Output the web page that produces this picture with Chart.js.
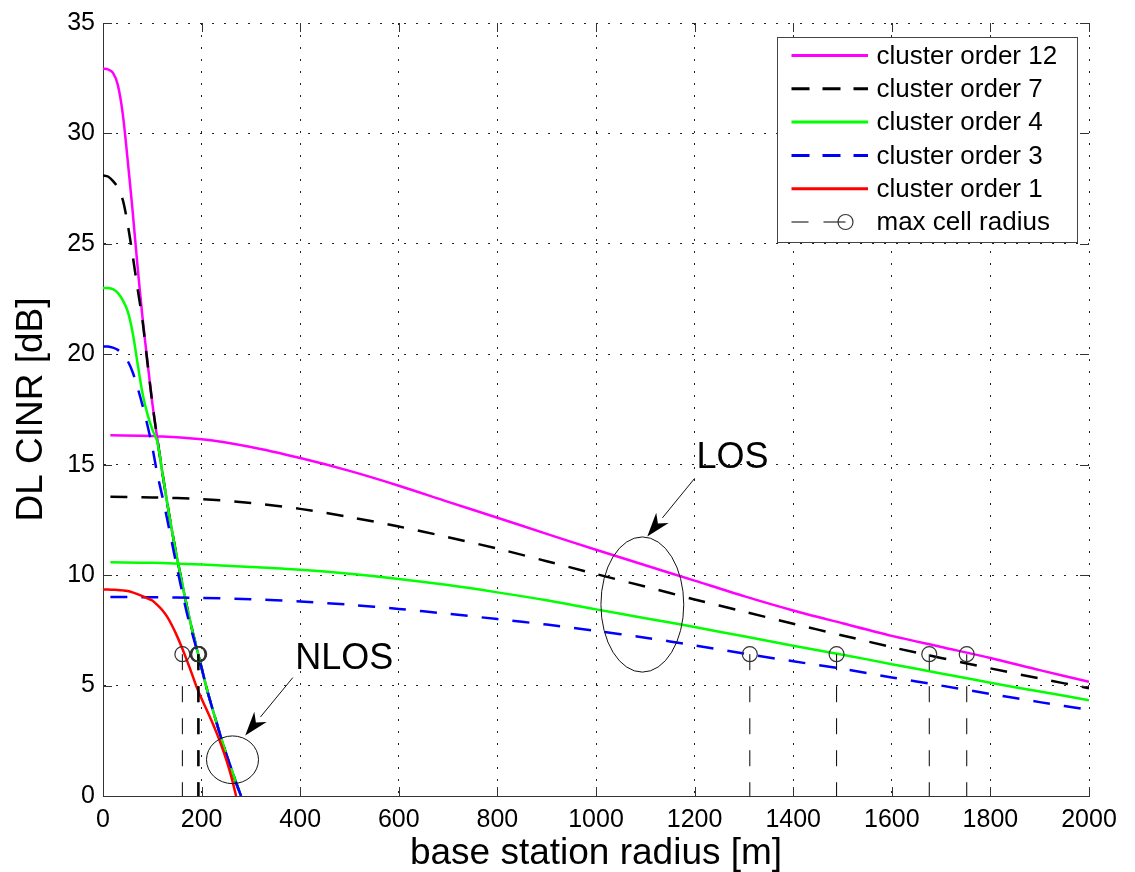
<!DOCTYPE html>
<html>
<head>
<meta charset="utf-8">
<title>DL CINR vs base station radius</title>
<script src="https://cdn.jsdelivr.net/npm/chart.js@4.4.1/dist/chart.umd.min.js"></script>
<style>
  html, body { margin: 0; padding: 0; background: #fff; }
  #wrap { width: 1135px; height: 872px; }
</style>
</head>
<body>
<div id="wrap"><canvas id="myChart" width="1135" height="872"></canvas></div>
<script>
'use strict';

// NLOS curves (steep part), radius in m
const nlosRadius = [0, 10, 20, 30, 40, 50, 60, 70, 80, 90, 100, 110, 120, 130, 140,
  150, 160, 170, 180, 190, 200, 210, 220, 230, 240, 250, 260, 270, 280];
const nlosOrder12 = [32.93, 32.9, 32.75, 32.2, 30.9, 28.8, 26.5, 24.0, 21.7, 19.7, 17.8, 16.2, 14.7, 13.3, 12.0,
  10.8, 9.7, 8.6, 7.6, 6.7, 5.8, 4.9, 4.1, 3.35, 2.6, 1.9, 1.25, 0.6, 0];
const nlosOrder7 = [28.1, 28.05, 27.85, 27.55, 27.0, 25.9, 24.5, 23.0, 21.55, 19.65, 17.8, 16.2, 14.7, 13.3, 12.0,
  10.8, 9.7, 8.6, 7.6, 6.7, 5.8, 4.9, 4.1, 3.35, 2.6, 1.9, 1.25, 0.6, 0];
const nlosOrder4 = [23.0, 23.0, 22.95, 22.78, 22.45, 21.95, 21.0, 19.6, 18.25, 17.3, 16.6, 16.05, 14.7, 13.3, 12.0,
  10.8, 9.7, 8.6, 7.6, 6.7, 5.8, 4.9, 4.1, 3.35, 2.6, 1.9, 1.25, 0.6, 0];
const nlosOrder3 = [20.35, 20.35, 20.3, 20.2, 20.0, 19.7, 19.2, 18.5, 17.7, 16.8, 15.8, 14.6, 13.6, 12.55, 11.45,
  10.35, 9.3, 8.3, 7.45, 6.65, 5.8, 4.9, 4.1, 3.35, 2.6, 1.9, 1.25, 0.6, 0];
const nlosOrder1 = [9.35, 9.35, 9.34, 9.33, 9.31, 9.28, 9.22, 9.14, 9.05, 8.95, 8.85, 8.65, 8.42, 8.12, 7.72,
  7.25, 6.72, 6.15, 5.55, 4.93, 4.4, 3.92, 3.42, 2.88, 2.3, 1.65, 0.9, 0];

// LOS curves (flat part)
const losRadius = [15, 100, 200, 300, 400, 500, 600, 700, 800, 900, 1000,
  1100, 1200, 1300, 1400, 1500, 1600, 1700, 1800, 1900, 2000];
const losOrder12 = [16.33, 16.3, 16.15, 15.8, 15.3, 14.72, 14.05, 13.32, 12.6, 11.87, 11.15,
  10.45, 9.75, 9.05, 8.4, 7.82, 7.25, 6.75, 6.25, 5.7, 5.17];
const losOrder7 = [13.55, 13.52, 13.44, 13.27, 13.0, 12.63, 12.2, 11.72, 11.2, 10.63, 10.05,
  9.48, 8.9, 8.35, 7.8, 7.27, 6.74, 6.25, 5.78, 5.32, 4.88];
const losOrder4 = [10.58, 10.56, 10.48, 10.37, 10.24, 10.06, 9.83, 9.55, 9.22, 8.86, 8.45,
  8.05, 7.65, 7.23, 6.8, 6.4, 5.97, 5.55, 5.13, 4.73, 4.34];
const losOrder3 = [9.01, 9.0, 8.97, 8.91, 8.81, 8.66, 8.47, 8.25, 8.01, 7.76, 7.48,
  7.17, 6.82, 6.45, 6.1, 5.76, 5.37, 5.0, 4.62, 4.25, 3.9];

// max cell radius markers
const maxCellRadius = [161, 192, 193, 194, 195, 1312, 1488, 1676, 1752];
const maxCellCinr = 6.42;

const seriesLabels = ['cluster order 12', 'cluster order 7', 'cluster order 4', 'cluster order 3', 'cluster order 1', 'max cell radius'];
const xTickStep = 200;
const yTickStep = 5;

const fontFamily = '"Liberation Sans", Arial, Helvetica, sans-serif';

function makePoints(xs, ys) {
  const pts = [];
  for (let i = 0; i < xs.length; i++) {
    if (ys[i] === undefined) continue;
    pts.push({x: xs[i], y: ys[i]});
  }
  return pts;
}

// NLOS + gap + LOS in one dataset so one legend entry covers both
function curve(nlos, los) {
  let pts = makePoints(nlosRadius, nlos);
  if (los) {
    pts.push({x: losRadius[0], y: null});
    pts = pts.concat(makePoints(losRadius, los));
  }
  return pts;
}

let markerPts = [];
for (let i = 0; i < maxCellRadius.length; i++) {
  markerPts.push({x: maxCellRadius[i], y: maxCellCinr});
  markerPts.push({x: maxCellRadius[i], y: 0});
  markerPts.push({x: maxCellRadius[i], y: null});
}

const dashes = [17, 14];

const datasets = [
  {label: seriesLabels[0], data: curve(nlosOrder12, losOrder12), borderColor: '#ff00ff', borderWidth: 2.5, order: 6},
  {label: seriesLabels[1], data: curve(nlosOrder7, losOrder7), borderColor: '#000000', borderWidth: 2.5, borderDash: dashes, order: 5},
  {label: seriesLabels[2], data: curve(nlosOrder4, losOrder4), borderColor: '#00ff00', borderWidth: 2.5, order: 4},
  {label: seriesLabels[3], data: curve(nlosOrder3, losOrder3), borderColor: '#0000ff', borderWidth: 2.5, borderDash: dashes, order: 3},
  {label: seriesLabels[4], data: curve(nlosOrder1, null), borderColor: '#ff0000', borderWidth: 2.5, order: 2},
  {
    label: seriesLabels[5], data: markerPts, borderColor: '#000000', borderWidth: 1, borderDash: [16, 16],
    tension: 0, order: 1,
    pointRadius: ctx => (ctx.raw && ctx.raw.y === maxCellCinr ? 7.5 : 0),
    pointBorderColor: '#333333', pointBorderWidth: 1.2, pointBackgroundColor: 'rgba(0,0,0,0)'
  }
];
datasets.forEach(d => {
  d.fill = false;
  if (d.tension === undefined) d.tension = 0.3;
  if (d.pointRadius === undefined) d.pointRadius = 0;
});

// annotations in data units
const notes = {
  nlos: {text: 'NLOS', tx: 390, ty: 5.77, ex: 262.7, ey: 1.64, rx: 52.7, ry: 1.08, ax1: 385, ay1: 5.36, ax2: 288.5, ay2: 2.74},
  los: {text: 'LOS', tx: 1204, ty: 14.83, ex: 1094, ey: 8.67, rx: 84, ry: 3.06, ax1: 1200, ay1: 14.38, ax2: 1104, ay2: 11.75}
};

const extrasPlugin = {
  id: 'extras',
  afterDraw(chart) {
    const ctx = chart.ctx;
    const xs = chart.scales.x;
    const ys = chart.scales.y;
    const area = chart.chartArea;

    // inward tick marks like the original
    ctx.save();
    ctx.strokeStyle = '#333';
    ctx.lineWidth = 1;
    ctx.beginPath();
    xs.ticks.forEach(t => {
      const px = Math.round(xs.getPixelForValue(t.value)) + 0.5;
      ctx.moveTo(px, area.bottom); ctx.lineTo(px, area.bottom - 9);
      ctx.moveTo(px, area.top); ctx.lineTo(px, area.top + 9);
    });
    ys.ticks.forEach(t => {
      const py = Math.round(ys.getPixelForValue(t.value)) + 0.5;
      ctx.moveTo(area.left, py); ctx.lineTo(area.left + 9, py);
      ctx.moveTo(area.right, py); ctx.lineTo(area.right - 9, py);
    });
    ctx.stroke();
    ctx.restore();

    // ellipses, arrows, labels
    Object.keys(notes).forEach(k => {
      const n = notes[k];
      const cx = xs.getPixelForValue(n.ex), cy = ys.getPixelForValue(n.ey);
      const rx = Math.abs(xs.getPixelForValue(n.ex + n.rx) - cx);
      const ry = Math.abs(ys.getPixelForValue(n.ey + n.ry) - cy);
      ctx.save();
      ctx.strokeStyle = '#111';
      ctx.lineWidth = 1;
      ctx.beginPath();
      ctx.ellipse(cx, cy, rx, ry, 0, 0, Math.PI * 2);
      ctx.stroke();

      const x1 = xs.getPixelForValue(n.ax1), y1 = ys.getPixelForValue(n.ay1);
      const x2 = xs.getPixelForValue(n.ax2), y2 = ys.getPixelForValue(n.ay2);
      const ang = Math.atan2(y2 - y1, x2 - x1);
      const headLen = 24, headW = 8;
      const bx = x2 - headLen * Math.cos(ang), by = y2 - headLen * Math.sin(ang);
      ctx.beginPath();
      ctx.moveTo(x1, y1); ctx.lineTo(bx, by);
      ctx.stroke();
      ctx.fillStyle = '#000';
      ctx.beginPath();
      ctx.moveTo(x2, y2);
      ctx.lineTo(bx + headW * Math.sin(ang), by - headW * Math.cos(ang));
      ctx.lineTo(x2 - 0.7 * headLen * Math.cos(ang), y2 - 0.7 * headLen * Math.sin(ang));
      ctx.lineTo(bx - headW * Math.sin(ang), by + headW * Math.cos(ang));
      ctx.closePath();
      ctx.fill();

      ctx.font = '36px ' + fontFamily;
      ctx.textBaseline = 'alphabetic';
      ctx.textAlign = 'left';
      ctx.fillText(n.text, xs.getPixelForValue(n.tx), ys.getPixelForValue(n.ty));
      ctx.restore();
    });

    // legend box in the top right corner
    const lw = 300, lh = 205;
    const lx = area.right - 12 - lw, ly = area.top + 14;
    ctx.save();
    ctx.fillStyle = '#fff';
    ctx.fillRect(lx, ly, lw, lh);
    ctx.strokeStyle = '#444';
    ctx.lineWidth = 1;
    ctx.strokeRect(Math.round(lx) + 0.5, Math.round(ly) + 0.5, lw, lh);
    ctx.font = '26px ' + fontFamily;
    ctx.textBaseline = 'middle';
    ctx.fillStyle = '#000';
    chart.data.datasets.forEach((d, i) => {
      const rowY = ly + 18.5 + i * 33.3;
      const sx1 = lx + 14.5, sx2 = lx + 91;
      ctx.save();
      if (i === chart.data.datasets.length - 1) {
        ctx.strokeStyle = '#000';
        ctx.lineWidth = 1;
        ctx.beginPath();
        ctx.moveTo(sx1, rowY); ctx.lineTo(sx1 + 17, rowY);
        ctx.moveTo(sx1 + 32, rowY); ctx.lineTo(sx1 + 54, rowY);
        ctx.stroke();
        ctx.strokeStyle = '#333';
        ctx.lineWidth = 1.2;
        ctx.beginPath();
        ctx.arc(sx1 + 54, rowY, 7.5, 0, Math.PI * 2);
        ctx.stroke();
      } else {
        ctx.strokeStyle = d.borderColor;
        ctx.lineWidth = 3;
        ctx.setLineDash(d.borderDash ? [18, 13] : []);
        ctx.beginPath();
        ctx.moveTo(sx1, rowY); ctx.lineTo(sx2, rowY);
        ctx.stroke();
      }
      ctx.restore();
      ctx.fillText(d.label, lx + 99.5, rowY + 1);
    });
    ctx.restore();
  }
};

const config = {
  type: 'line',
  data: {datasets: datasets},
  options: {
    responsive: false,
    animation: false,
    events: [],
    layout: {padding: {top: 19, right: 46, left: 0, bottom: 0}},
    plugins: {
      legend: {display: false},
      tooltip: {enabled: false}
    },
    scales: {
      x: {
        type: 'linear',
        min: 0,
        max: 2000,
        ticks: {stepSize: xTickStep, color: '#000', padding: 9, maxRotation: 0,
          font: {family: fontFamily, size: 25}, callback: v => String(v)},
        grid: {color: '#222', lineWidth: 1, drawTicks: false},
        border: {display: true, color: '#333', width: 1, dash: [2, 10]},
        title: {display: true, text: 'base station radius [m]', color: '#000',
          font: {family: fontFamily, size: 37, lineHeight: 1}, padding: {top: 0, bottom: 0}},
        afterFit(scale) { scale.height = 76; }
      },
      y: {
        type: 'linear',
        min: 0,
        max: 35,
        ticks: {stepSize: yTickStep, color: '#000', padding: 8,
          font: {family: fontFamily, size: 25}, callback: v => String(v)},
        grid: {color: '#222', lineWidth: 1, drawTicks: false},
        border: {display: true, color: '#333', width: 1, dash: [2, 10]},
        title: {display: true, text: 'DL CINR [dB]', color: '#000',
          font: {family: fontFamily, size: 37, lineHeight: 1}, padding: {top: 13, bottom: 0}},
        afterFit(scale) { scale.width = 103; }
      }
    }
  },
  plugins: [extrasPlugin]
};

let canvasChart = document.getElementById('myChart');
const myChart = new Chart(canvasChart, config);
</script>
</body>
</html>
